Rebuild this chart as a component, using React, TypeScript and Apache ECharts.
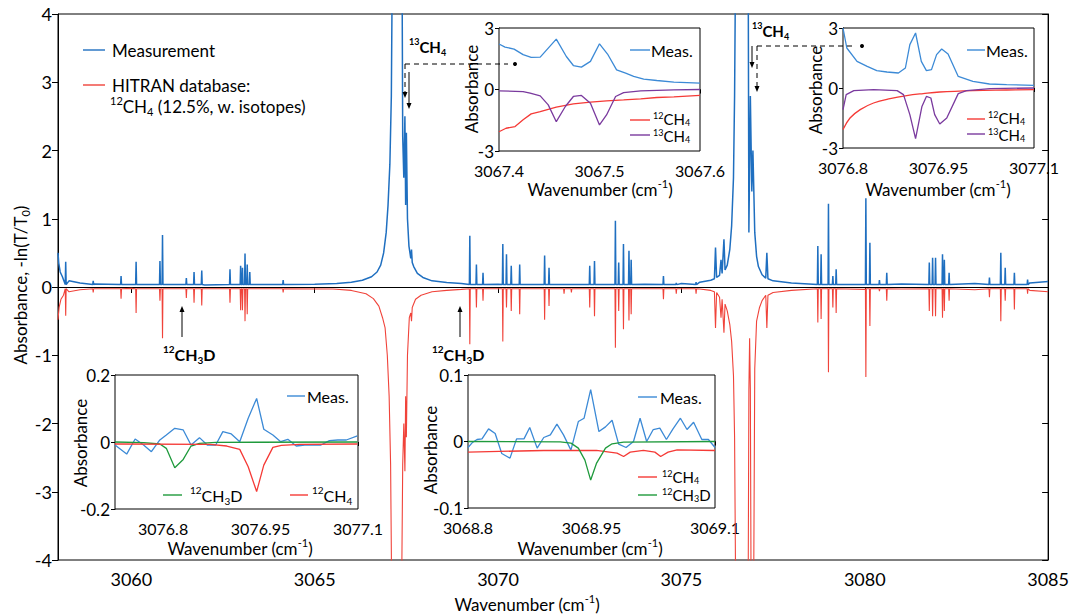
import React, { useEffect, useRef } from 'react';
import * as echarts from 'echarts';

const FONT = 'Lato, "Open Sans", sans-serif';

// ---------- main panel ----------
const mainXTicks = [3060, 3065, 3070, 3075, 3080, 3085];

// measurement baseline / wings (wavenumber, absorbance)
const blueEnvelope: [number, number][] = [
  [3058, 0.5], [3058.02, 0.35], [3058.06, 0.22], [3058.12, 0.15], [3058.3, 0.09], [3058.6, 0.06],
  [3059, 0.045], [3060, 0.035], [3062, 0.03], [3064, 0.035], [3065, 0.04], [3065.6, 0.05],
  [3066.0, 0.07], [3066.3, 0.1], [3066.55, 0.15], [3066.7, 0.22], [3066.8, 0.32], [3066.88, 0.5],
  [3066.95, 0.8], [3067.0, 1.2], [3067.05, 1.8], [3067.09, 2.8], [3067.12, 5], [3067.38, 5],
  [3067.4, 2.2], [3067.43, 1.6], [3067.46, 2.5], [3067.48, 1.2], [3067.5, 2.26], [3067.53, 1.0],
  [3067.57, 0.6], [3067.62, 0.42], [3067.64, 0.55], [3067.66, 0.36], [3067.7, 0.3], [3067.8, 0.2],
  [3067.95, 0.14], [3068.2, 0.09], [3068.6, 0.065], [3069, 0.05], [3070, 0.04], [3072, 0.035],
  [3074, 0.04], [3075, 0.05], [3075.5, 0.07], [3075.8, 0.1], [3075.9, 0.12], [3075.93, 0.58],
  [3075.96, 0.14], [3076.04, 0.17], [3076.08, 0.4], [3076.11, 0.2], [3076.16, 0.7], [3076.19, 0.25],
  [3076.25, 0.32], [3076.32, 0.55], [3076.37, 0.9], [3076.42, 1.6], [3076.45, 2.8], [3076.48, 5],
  [3076.82, 5], [3076.84, 0.8], [3076.88, 2.8], [3076.92, 1.4], [3076.95, 2.0], [3077.0, 0.8],
  [3077.05, 0.45], [3077.1, 0.3], [3077.2, 0.18], [3077.3, 0.13], [3077.33, 0.5], [3077.36, 0.12],
  [3077.5, 0.09], [3078, 0.06], [3079, 0.05], [3081, 0.045], [3083, 0.05], [3084.5, 0.06], [3085, 0.08],
];

// isolated measured lines (wavenumber, peak absorbance)
const bluePeaks: [number, number][] = [
  [3058.21, 0.37], [3058.96, 0.09], [3059.72, 0.16], [3060.13, 0.37], [3060.78, 0.38], [3060.85, 0.76],
  [3061.5, 0.13], [3061.71, 0.22], [3061.92, 0.24], [3062.69, 0.26], [3062.98, 0.31], [3063.03, 0.28],
  [3063.1, 0.49], [3063.16, 0.33], [3063.23, 0.22], [3064.14, 0.1], [3069.23, 0.75], [3069.41, 0.33],
  [3069.59, 0.21], [3070.13, 0.63], [3070.23, 0.48], [3070.36, 0.31], [3070.59, 0.33], [3071.27, 0.46],
  [3071.39, 0.28], [3072.5, 0.31], [3072.63, 0.38], [3073.2, 0.97], [3073.29, 0.36], [3073.42, 0.63],
  [3073.57, 0.53], [3073.63, 0.4], [3074.51, 0.16], [3074.86, 0.06], [3075.4, 0.07], [3078.72, 0.6],
  [3078.81, 0.48], [3079.01, 1.22], [3079.13, 0.16], [3079.22, 0.26], [3080.03, 1.3], [3080.14, 0.65],
  [3080.4, 0.1], [3080.6, 0.21], [3081.76, 0.36], [3081.85, 0.43], [3081.93, 0.43], [3082.12, 0.48],
  [3082.17, 0.4], [3082.3, 0.21], [3083.4, 0.14], [3083.71, 0.5], [3083.83, 0.28], [3084.08, 0.21],
  [3084.44, 0.11],
];

// HITRAN baseline / wings
const redEnvelope: [number, number][] = [
  [3058, -0.48], [3058.03, -0.3], [3058.08, -0.18], [3058.15, -0.12], [3058.3, -0.07], [3058.6, -0.04],
  [3059.2, -0.025], [3060, -0.02], [3065.5, -0.03], [3066.0, -0.05], [3066.4, -0.1], [3066.6, -0.17],
  [3066.75, -0.28], [3066.85, -0.45], [3066.92, -0.6], [3066.98, -1.0], [3067.03, -1.6], [3067.07, -2.6],
  [3067.1, -4.5], [3067.37, -4.5], [3067.4, -2.6], [3067.43, -2.0], [3067.46, -2.7], [3067.48, -1.6],
  [3067.5, -2.2], [3067.53, -1.0], [3067.58, -0.45], [3067.62, -0.38], [3067.64, -0.5], [3067.66, -0.3],
  [3067.75, -0.18], [3067.9, -0.12], [3068.2, -0.07], [3068.6, -0.05], [3069, -0.035], [3070, -0.025],
  [3075.5, -0.03], [3075.8, -0.05], [3075.9, -0.07], [3075.93, -0.6], [3075.96, -0.08], [3076.04, -0.15],
  [3076.08, -0.45], [3076.11, -0.18], [3076.16, -0.67], [3076.19, -0.25], [3076.25, -0.35], [3076.32, -0.55],
  [3076.37, -0.8], [3076.42, -1.3], [3076.45, -2.2], [3076.48, -4.5], [3076.82, -4.5], [3076.84, -1.5],
  [3076.86, -0.75], [3076.88, -1.5], [3076.9, -4.5], [3076.97, -4.5], [3077.0, -1.2], [3077.05, -0.5],
  [3077.13, -0.3], [3077.2, -0.2], [3077.3, -0.12], [3077.33, -0.6], [3077.36, -0.12], [3077.5, -0.08],
  [3078, -0.05], [3079, -0.04], [3080, -0.035], [3081, -0.03], [3083, -0.04], [3084.5, -0.05], [3085, -0.07],
];

const redPeaks: [number, number][] = [
  [3058.21, -0.42], [3058.96, -0.08], [3059.72, -0.17], [3060.13, -0.38], [3060.78, -0.2], [3060.85, -0.75],
  [3061.5, -0.16], [3061.71, -0.23], [3061.92, -0.27], [3062.69, -0.23], [3062.98, -0.34], [3063.03, -0.34],
  [3063.1, -0.5], [3063.16, -0.4], [3064.14, -0.08], [3069.23, -0.84], [3069.41, -0.3], [3069.59, -0.2],
  [3070.13, -0.8], [3070.23, -0.3], [3070.36, -0.35], [3070.59, -0.4], [3071.27, -0.48], [3071.39, -0.28],
  [3071.8, -0.1], [3072.0, -0.08], [3072.5, -0.3], [3072.63, -0.43], [3073.2, -0.89], [3073.29, -0.35],
  [3073.42, -0.62], [3073.57, -0.49], [3073.63, -0.4], [3074.51, -0.18], [3074.86, -0.1], [3075.4, -0.1],
  [3078.72, -0.52], [3078.81, -0.47], [3079.01, -1.25], [3079.13, -0.3], [3079.22, -0.38], [3080.03, -1.32],
  [3080.14, -0.57], [3080.4, -0.06], [3080.6, -0.2], [3081.76, -0.35], [3081.85, -0.43], [3081.93, -0.43],
  [3082.12, -0.45], [3082.17, -0.35], [3082.3, -0.2], [3083.4, -0.15], [3083.71, -0.5], [3083.83, -0.2],
  [3084.08, -0.33], [3084.44, -0.1],
];

// ---------- inset: 3067.4 - 3067.6 ----------
const tmXTicks = [3067.4, 3067.5, 3067.6];
const tmMeas: [number, number][] = [
  [3067.4, 2.22], [3067.406, 2.07], [3067.415, 1.97], [3067.424, 1.7], [3067.432, 1.57], [3067.441, 1.58],
  [3067.449, 2.02], [3067.457, 2.46], [3067.467, 1.61], [3067.474, 1.17], [3067.482, 1.09], [3067.491, 1.37],
  [3067.5, 2.23], [3067.508, 1.73], [3067.517, 0.96], [3067.526, 0.8], [3067.534, 0.64], [3067.544, 0.51],
  [3067.557, 0.44], [3067.574, 0.36], [3067.6, 0.31],
];
const tm13: [number, number][] = [
  [3067.4, -0.07], [3067.424, -0.1], [3067.431, -0.18], [3067.441, -0.31], [3067.449, -0.75], [3067.457, -1.57],
  [3067.466, -0.83], [3067.474, -0.34], [3067.482, -0.29], [3067.491, -0.67], [3067.5, -1.73], [3067.507, -1.24],
  [3067.516, -0.34], [3067.524, -0.15], [3067.541, -0.07], [3067.574, -0.02], [3067.6, 0],
];
const tm12: [number, number][] = [
  [3067.4, -2.06], [3067.407, -1.89], [3067.416, -1.81], [3067.424, -1.48], [3067.432, -1.19], [3067.441, -1.08],
  [3067.457, -0.86], [3067.474, -0.7], [3067.491, -0.62], [3067.507, -0.55], [3067.524, -0.51], [3067.541, -0.46],
  [3067.557, -0.39], [3067.574, -0.36], [3067.6, -0.29],
];

// ---------- inset: 3076.8 - 3077.1 (top right) ----------
const trXTicks = [3076.8, 3076.95, 3077.1];
const trMeas: [number, number][] = [
  [3076.8, 3.0], [3076.806, 2.0], [3076.822, 1.33], [3076.838, 1.08], [3076.853, 0.87], [3076.869, 0.8],
  [3076.887, 0.75], [3076.898, 1.0], [3076.905, 2.17], [3076.914, 2.75], [3076.923, 1.33], [3076.931, 0.87],
  [3076.939, 0.92], [3076.947, 1.67], [3076.955, 1.95], [3076.965, 1.7], [3076.981, 0.58], [3077.004, 0.33],
  [3077.03, 0.2], [3077.057, 0.17], [3077.1, 0.13],
];
const tr13: [number, number][] = [
  [3076.8, -1.08], [3076.805, -0.33], [3076.817, -0.13], [3076.848, -0.08], [3076.885, -0.13], [3076.895, -0.33],
  [3076.905, -1.33], [3076.914, -2.53], [3076.924, -0.92], [3076.931, -0.42], [3076.938, -0.5], [3076.944, -1.33],
  [3076.952, -1.8], [3076.963, -1.5], [3076.981, -0.28], [3076.994, -0.13], [3077.031, -0.03], [3077.1, 0],
];
const tr12: [number, number][] = [
  [3076.8, -2.08], [3076.811, -1.5], [3076.827, -1.08], [3076.848, -0.75], [3076.874, -0.53], [3076.9, -0.38],
  [3076.926, -0.28], [3076.952, -0.2], [3077.004, -0.13], [3077.057, -0.1], [3077.1, -0.08],
];

// ---------- inset: bottom left ----------
const blXTicks = [3076.8, 3076.95, 3077.1];
const blMeas: [number, number][] = [
  [3076.726, -0.009], [3076.744, -0.036], [3076.757, 0.009], [3076.77, -0.009], [3076.782, -0.029],
  [3076.795, 0.006], [3076.805, 0.021], [3076.818, 0.041], [3076.831, 0.036], [3076.843, -0.009],
  [3076.856, 0.013], [3076.868, -0.009], [3076.881, -0.009], [3076.892, 0.031], [3076.905, 0.024],
  [3076.918, 0.001], [3076.931, 0.071], [3076.944, 0.13], [3076.955, 0.038], [3076.969, 0.021],
  [3076.981, 0.001], [3076.992, 0.008], [3077.005, -0.012], [3077.018, -0.009], [3077.031, -0.009],
  [3077.043, -0.009], [3077.056, 0.004], [3077.069, 0.006], [3077.082, 0.006], [3077.099, 0.018],
];
const blCH3D: [number, number][] = [
  [3076.726, 0], [3076.77, -0.002], [3076.795, -0.006], [3076.805, -0.019], [3076.818, -0.077],
  [3076.831, -0.052], [3076.843, -0.012], [3076.856, -0.004], [3076.881, -0.001], [3077.099, 0],
];
const blCH4: [number, number][] = [
  [3076.726, -0.006], [3076.872, -0.007], [3076.898, -0.012], [3076.918, -0.022], [3076.931, -0.074],
  [3076.944, -0.148], [3076.955, -0.069], [3076.969, -0.016], [3076.982, -0.01], [3077.01, -0.007],
  [3077.099, -0.006],
];

// ---------- inset: bottom middle ----------
const bmXTicks = [3068.8, 3068.95, 3069.1];
const bmMeas: [number, number][] = [
  [3068.8, -0.009], [3068.805, -0.002], [3068.811, 0.003], [3068.817, 0.004], [3068.825, 0.019],
  [3068.833, 0.012], [3068.841, -0.018], [3068.851, -0.025], [3068.859, 0.004], [3068.868, 0.004],
  [3068.875, 0.021], [3068.884, -0.01], [3068.892, 0.006], [3068.9, 0.01], [3068.908, 0.026],
  [3068.916, 0.01], [3068.925, -0.013], [3068.934, 0.03], [3068.941, 0.035], [3068.949, 0.078],
  [3068.959, 0.015], [3068.967, 0.022], [3068.975, 0.032], [3068.983, -0.004], [3068.992, -0.009],
  [3069.001, 0], [3069.009, 0.035], [3069.017, 0], [3069.025, 0.018], [3069.033, 0.02],
  [3069.041, 0.003], [3069.049, 0.019], [3069.058, 0.035], [3069.066, 0.018], [3069.074, 0.029],
  [3069.084, 0.003], [3069.092, 0.003], [3069.1, -0.009],
];
const bmCH3D: [number, number][] = [
  [3068.8, 0], [3068.912, -0.0005], [3068.925, -0.0025], [3068.934, -0.01], [3068.942, -0.028],
  [3068.949, -0.058], [3068.956, -0.033], [3068.967, -0.01], [3068.975, -0.0035], [3068.989, -0.001],
  [3069.1, 0],
];
const bmCH4: [number, number][] = [
  [3068.8, -0.016], [3068.892, -0.0135], [3068.956, -0.0135], [3068.981, -0.0175], [3068.989, -0.0225],
  [3068.997, -0.016], [3069.013, -0.0135], [3069.027, -0.016], [3069.034, -0.0225], [3069.043, -0.016],
  [3069.054, -0.0125], [3069.1, -0.0135],
];

const C_BLUE = '#1f6fc0';
const C_RED = '#f0433a';
const C_IBLUE = '#3c8ad6';
const C_IRED = '#f53a36';
const C_PURPLE = '#7a3a9e';
const C_GREEN = '#1f9a3c';

function buildSpectrum(env: [number, number][], peaks: [number, number][], foot: number) {
  const hw = 0.012;
  const pts: number[][] = env.map((p) => [p[0], p[1]]);
  peaks.forEach(([x, h]) => {
    pts.push([x - hw, foot], [x, h], [x + hw, foot]);
  });
  pts.sort((a, b) => a[0] - b[0]);
  return pts;
}

function rich(size: number, weight: string = 'normal', lh = 1.3) {
  const s = Math.round(size * 0.62);
  return {
    t: { fontSize: size, fontFamily: FONT, fontWeight: weight, lineHeight: Math.round(size * lh), fill: '#000' },
    sp: { fontSize: s, fontFamily: FONT, fontWeight: weight, lineHeight: s, verticalAlign: 'top', fill: '#000' },
    sb: { fontSize: s, fontFamily: FONT, fontWeight: weight, lineHeight: s, verticalAlign: 'bottom', fill: '#000' },
  };
}

function rtext(x: number, y: number, text: string, size: number, opts: any = {}) {
  return {
    type: 'text',
    x,
    y,
    rotation: opts.rotation || 0,
    z: 100,
    style: {
      text,
      rich: rich(size, opts.weight || 'normal', opts.lh || 1.3),
      align: opts.align || 'left',
      verticalAlign: 'middle',
      fill: '#000',
    },
  };
}

function seg(x1: number, y1: number, x2: number, y2: number, color: string, width = 1.4, dash?: number[]) {
  return {
    type: 'line',
    z: 100,
    shape: { x1, y1, x2, y2 },
    style: { stroke: color, lineWidth: width, lineDash: dash || null },
  };
}

function arrowDown(x: number, y: number) {
  return { type: 'polygon', z: 100, shape: { points: [[x - 2.5, y - 6], [x + 2.5, y - 6], [x, y]] }, style: { fill: '#000' } };
}
function arrowUp(x: number, y: number) {
  return { type: 'polygon', z: 100, shape: { points: [[x - 2.5, y + 6], [x + 2.5, y + 6], [x, y]] }, style: { fill: '#000' } };
}

const fmt = (v: number) => (Math.abs(v) < 1e-9 ? '0' : String(+v.toFixed(3)));

function insetX(grid: number, min: number, max: number, ticks: number[]) {
  return {
    gridIndex: grid,
    type: 'value',
    min,
    max,
    axisLine: { show: true, lineStyle: { color: '#000', width: 1 } },
    axisTick: { show: true, length: 4, customValues: ticks, lineStyle: { color: '#000' } },
    axisLabel: { customValues: ticks, formatter: fmt, color: '#000', fontSize: 16, fontFamily: FONT, margin: 11, lineHeight: 16 },
    splitLine: { show: false },
  };
}
function insetY(grid: number, min: number, max: number, interval: number) {
  return {
    gridIndex: grid,
    type: 'value',
    min,
    max,
    interval,
    axisLine: { show: true, lineStyle: { color: '#000', width: 1 } },
    axisTick: { show: true, length: 4, lineStyle: { color: '#000' } },
    axisLabel: { formatter: fmt, color: '#000', fontSize: 17, fontFamily: FONT, margin: 5, lineHeight: 14 },
    splitLine: { show: false },
  };
}
function line(xi: number, data: number[][], color: string, width = 1.3, smooth: any = false) {
  return {
    type: 'line',
    xAxisIndex: xi,
    yAxisIndex: xi,
    data,
    showSymbol: false,
    symbol: 'none',
    smooth,
    lineStyle: { color, width },
    z: 5,
  };
}

export default function App() {
  const ref = useRef<HTMLDivElement>(null);
  useEffect(() => {
    if (!ref.current) return;
    const chart = echarts.init(ref.current, null, { renderer: 'svg' });
    const blueData = buildSpectrum(blueEnvelope, bluePeaks, 0.035);
    const redData = buildSpectrum(redEnvelope, redPeaks, -0.025);
    const L = { lh: 1.05 };

    const graphic: any[] = [
      // main axis titles
      rtext(527, 604, '{t|Wavenumber (cm}{sp|-1}{t|)}', 17, { align: 'center' }),
      rtext(20, 285, '{t|Absorbance, -ln(T/T}{sb|0}{t|)}', 17, { align: 'center', rotation: Math.PI / 2 }),
      // main legend
      seg(83, 50, 105, 50, C_BLUE),
      rtext(112, 50, '{t|Measurement}', 17),
      seg(83, 85, 105, 85, C_RED),
      rtext(112, 85, '{t|HITRAN database:}', 17),
      rtext(110, 106, '{sp|12}{t|CH}{sb|4}{t| (12.5%, w. isotopes)}', 17),
      // 13CH4 annotation (left)
      rtext(409, 47, '{sp|13}{t|CH}{sb|4}', 15, { weight: 'bold' }),
      seg(405, 64, 508, 64, '#000', 1, [5, 4]),
      seg(405, 64, 405, 92, '#000', 1, [5, 4]),
      arrowDown(405, 98),
      seg(409, 72, 409, 103, '#000', 1),
      arrowDown(409, 109),
      { type: 'circle', z: 100, shape: { cx: 515, cy: 64, r: 2 }, style: { fill: '#000' } },
      // 13CH4 annotation (right)
      rtext(752, 31, '{sp|13}{t|CH}{sb|4}', 15, { weight: 'bold' }),
      seg(757, 46, 853, 46, '#000', 1, [5, 4]),
      seg(757, 46, 757, 86, '#000', 1, [5, 4]),
      arrowDown(757, 92),
      seg(752, 46, 752, 62, '#000', 1),
      arrowDown(752, 68),
      { type: 'circle', z: 100, shape: { cx: 862, cy: 46, r: 2 }, style: { fill: '#000' } },
      // 12CH3D annotations
      seg(182, 337, 182, 312, '#000', 1),
      arrowUp(182, 306),
      rtext(163, 354, '{sp|12}{t|CH}{sb|3}{t|D}', 16, { weight: 'bold' }),
      seg(460, 337, 460, 312, '#000', 1),
      arrowUp(460, 306),
      rtext(432, 354, '{sp|12}{t|CH}{sb|3}{t|D}', 16, { weight: 'bold' }),

      // inset TM titles & legend
      rtext(471, 89, '{t|Absorbance}', 17, { align: 'center', rotation: Math.PI / 2 }),
      rtext(600, 189, '{t|Wavenumber (cm}{sp|-1}{t|)}', 17, { align: 'center' }),
      seg(630, 50, 650, 50, C_IBLUE),
      rtext(651, 50, '{t|Meas.}', 16),
      seg(630, 120, 650, 120, C_IRED),
      rtext(653, 119, '{sp|12}{t|CH}{sb|4}', 15, L),
      seg(630, 135, 650, 135, C_PURPLE),
      rtext(653, 136, '{sp|13}{t|CH}{sb|4}', 15, L),

      // inset TR titles & legend
      rtext(815, 90, '{t|Absorbance}', 17, { align: 'center', rotation: Math.PI / 2 }),
      rtext(938, 189, '{t|Wavenumber (cm}{sp|-1}{t|)}', 17, { align: 'center' }),
      seg(967, 50, 985, 50, C_IBLUE),
      rtext(986, 50, '{t|Meas.}', 16),
      seg(967, 119, 985, 119, C_IRED),
      rtext(988, 118, '{sp|12}{t|CH}{sb|4}', 15, L),
      seg(967, 134, 985, 134, C_PURPLE),
      rtext(988, 135, '{sp|13}{t|CH}{sb|4}', 15, L),

      // inset BL titles & legend
      rtext(80, 443, '{t|Absorbance}', 17, { align: 'center', rotation: Math.PI / 2 }),
      rtext(240, 548, '{t|Wavenumber (cm}{sp|-1}{t|)}', 17, { align: 'center' }),
      seg(287, 396, 305, 396, C_IBLUE),
      rtext(307, 396, '{t|Meas.}', 16),
      seg(163, 495, 182, 495, C_GREEN),
      rtext(190, 495, '{sp|12}{t|CH}{sb|3}{t|D}', 16),
      seg(290, 495, 308, 495, C_IRED),
      rtext(312, 495, '{sp|12}{t|CH}{sb|4}', 16),

      // inset BM titles & legend
      rtext(430, 450, '{t|Absorbance}', 17, { align: 'center', rotation: Math.PI / 2 }),
      rtext(590, 548, '{t|Wavenumber (cm}{sp|-1}{t|)}', 17, { align: 'center' }),
      seg(638, 397, 657, 397, C_IBLUE),
      rtext(660, 397, '{t|Meas.}', 16),
      seg(638, 477, 657, 477, C_IRED),
      rtext(662, 477, '{sp|12}{t|CH}{sb|4}', 15, L),
      seg(638, 495, 657, 495, C_GREEN),
      rtext(662, 495, '{sp|12}{t|CH}{sb|3}{t|D}', 15, L),
    ];

    const option: any = {
      animation: false,
      backgroundColor: '#fff',
      grid: [
        { left: 58, top: 14, width: 991, height: 546, show: true, borderColor: '#000', borderWidth: 1, backgroundColor: 'transparent' },
        { left: 499, top: 28, width: 201, height: 123, show: true, borderColor: '#000', borderWidth: 1, backgroundColor: '#fff', z: 3 },
        { left: 843, top: 28, width: 191, height: 120, show: true, borderColor: '#000', borderWidth: 1, backgroundColor: '#fff', z: 3 },
        { left: 115, top: 375, width: 243, height: 134, show: true, borderColor: '#000', borderWidth: 1, backgroundColor: '#fff', z: 3 },
        { left: 468, top: 375, width: 247, height: 133, show: true, borderColor: '#000', borderWidth: 1, backgroundColor: '#fff', z: 3 },
      ],
      xAxis: [
        {
          gridIndex: 0, type: 'value', min: 3058, max: 3085,
          axisLine: { show: true, lineStyle: { color: '#000', width: 1 } },
          axisTick: { show: true, length: 6, customValues: mainXTicks, lineStyle: { color: '#000' } },
          axisLabel: { customValues: mainXTicks, formatter: (v: number) => String(v), color: '#000', fontSize: 18, fontFamily: FONT, margin: 10 },
          splitLine: { show: false },
        },
        insetX(1, 3067.4, 3067.6, tmXTicks),
        insetX(2, 3076.8, 3077.1, trXTicks),
        insetX(3, 3076.726, 3077.1, blXTicks),
        insetX(4, 3068.8, 3069.1, bmXTicks),
        {
          gridIndex: 0, type: 'value', min: 3058, max: 3085, position: 'top',
          axisLine: { show: true, lineStyle: { color: '#000', width: 1 } },
          axisTick: { show: true, inside: true, length: 6, customValues: mainXTicks, lineStyle: { color: '#000' } },
          axisLabel: { show: false },
          splitLine: { show: false },
        },
      ],
      yAxis: [
        {
          gridIndex: 0, type: 'value', min: -4, max: 4, interval: 1,
          axisLine: { show: true, lineStyle: { color: '#000', width: 1 } },
          axisTick: { show: true, length: 6, lineStyle: { color: '#000' } },
          axisLabel: { color: '#000', fontSize: 18, fontFamily: FONT, margin: 6 },
          splitLine: { show: false },
        },
        insetY(1, -3, 3, 3),
        insetY(2, -3, 3, 3),
        insetY(3, -0.2, 0.2, 0.2),
        insetY(4, -0.1, 0.1, 0.1),
        {
          gridIndex: 0, type: 'value', min: -4, max: 4, interval: 1, position: 'right',
          axisLine: { show: true, lineStyle: { color: '#000', width: 1 } },
          axisTick: { show: true, inside: true, length: 6, lineStyle: { color: '#000' } },
          axisLabel: { show: false },
          splitLine: { show: false },
        },
      ],
      series: [
        { ...line(0, blueData, C_BLUE, 1.5), z: 3 },
        { ...line(0, redData, C_RED, 1.1), z: 2 },
        line(1, tmMeas, C_IBLUE),
        line(1, tm12, C_IRED),
        line(1, tm13, C_PURPLE),
        line(2, trMeas, C_IBLUE),
        line(2, tr12, C_IRED, 1.3, 0.4),
        line(2, tr13, C_PURPLE),
        line(3, blMeas, C_IBLUE),
        line(3, blCH3D, C_GREEN),
        line(3, blCH4, C_IRED),
        line(4, bmMeas, C_IBLUE),
        line(4, bmCH4, C_IRED),
        line(4, bmCH3D, C_GREEN),
      ],
      graphic,
    };
    chart.setOption(option);
    return () => chart.dispose();
  }, []);
  return (
    <div
      ref={ref}
      style={{ position: 'fixed', left: 0, top: 0, width: 1072, height: 615, background: '#fff' }}
    />
  );
}
